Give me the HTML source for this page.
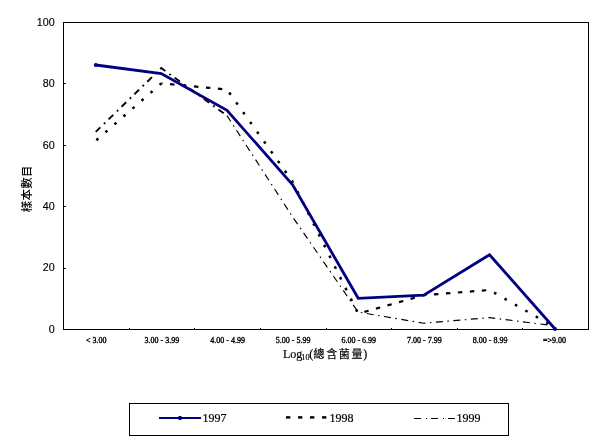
<!DOCTYPE html>
<html><head><meta charset="utf-8"><title>chart</title>
<style>
html,body{margin:0;padding:0;background:#fff;}
svg{display:block;}
.yl{font-family:"Liberation Sans",sans-serif;font-size:10.7px;fill:#000;stroke:#000;stroke-width:0.15px;}
.xl{font-family:"Liberation Serif",serif;font-size:8px;fill:#000;stroke:#000;stroke-width:0.35px;}
.lg{font-family:"Liberation Serif",serif;font-size:12px;fill:#000;stroke:#000;stroke-width:0.2px;}
.cj{font-family:"Liberation Serif","Noto Sans CJK TC","Noto Sans CJK SC",sans-serif;}
.ya{font-family:"Liberation Sans","Noto Sans CJK TC",sans-serif;font-size:11.4px;font-weight:500;fill:#000;}
</style></head><body>
<svg width="604" height="440" viewBox="0 0 604 440">
<rect x="0" y="0" width="604" height="440" fill="#fff"/>
<rect x="63.5" y="22.5" width="525.0" height="307.0" fill="none" stroke="#000" stroke-width="1" shape-rendering="crispEdges"/>
<rect x="64" y="329" width="2" height="1" fill="#000" shape-rendering="crispEdges"/>
<text class="yl" x="54.6" y="332.7" text-anchor="end">0</text>
<rect x="64" y="268" width="2" height="1" fill="#000" shape-rendering="crispEdges"/>
<text class="yl" x="54.6" y="271.3" text-anchor="end">20</text>
<rect x="64" y="206" width="2" height="1" fill="#000" shape-rendering="crispEdges"/>
<text class="yl" x="54.6" y="209.9" text-anchor="end">40</text>
<rect x="64" y="145" width="2" height="1" fill="#000" shape-rendering="crispEdges"/>
<text class="yl" x="54.6" y="148.5" text-anchor="end">60</text>
<rect x="64" y="83" width="2" height="1" fill="#000" shape-rendering="crispEdges"/>
<text class="yl" x="54.6" y="87.1" text-anchor="end">80</text>
<rect x="64" y="22" width="2" height="1" fill="#000" shape-rendering="crispEdges"/>
<text class="yl" x="54.6" y="25.7" text-anchor="end">100</text>
<rect x="129" y="328" width="1" height="1" fill="#000" shape-rendering="crispEdges"/>
<rect x="194" y="328" width="1" height="1" fill="#000" shape-rendering="crispEdges"/>
<rect x="260" y="328" width="1" height="1" fill="#000" shape-rendering="crispEdges"/>
<rect x="326" y="328" width="1" height="1" fill="#000" shape-rendering="crispEdges"/>
<rect x="391" y="328" width="1" height="1" fill="#000" shape-rendering="crispEdges"/>
<rect x="457" y="328" width="1" height="1" fill="#000" shape-rendering="crispEdges"/>
<rect x="522" y="328" width="1" height="1" fill="#000" shape-rendering="crispEdges"/>
<text class="xl" x="96.3" y="343.2" text-anchor="middle">&lt; 3.00</text>
<text class="xl" x="161.9" y="343.2" text-anchor="middle">3.00 - 3.99</text>
<text class="xl" x="227.6" y="343.2" text-anchor="middle">4.00 - 4.99</text>
<text class="xl" x="293.2" y="343.2" text-anchor="middle">5.00 - 5.99</text>
<text class="xl" x="358.8" y="343.2" text-anchor="middle">6.00 - 6.99</text>
<text class="xl" x="424.4" y="343.2" text-anchor="middle">7.00 - 7.99</text>
<text class="xl" x="490.1" y="343.2" text-anchor="middle">8.00 - 8.99</text>
<text class="xl" x="554.5" y="343.2" text-anchor="middle">=&gt;9.00</text>
<polyline points="95.7,131.9 161.3,68.1 227.0,115.6" fill="none" stroke="#000" stroke-width="1.9" stroke-dasharray="6.5 5 1.8 4.7"/>
<polyline points="227.0,115.6 292.6,216.9 358.2,312.1 423.8,323.2 489.5,317.6 555.1,325.9" fill="none" stroke="#000" stroke-width="1.15" stroke-dasharray="7 4.5 1.5 4.5"/>
<line x1="95.7" y1="140.8" x2="161.3" y2="83.4" stroke="#000" stroke-width="2.5" stroke-dasharray="2.6 9.4" stroke-dashoffset="11.10"/>
<line x1="161.3" y1="83.4" x2="227.0" y2="89.5" stroke="#000" stroke-width="2.2" stroke-dasharray="4.4 7.6" stroke-dashoffset="3.19"/>
<line x1="227.0" y1="89.5" x2="292.6" y2="181.6" stroke="#000" stroke-width="2.5" stroke-dasharray="2.6 9.4" stroke-dashoffset="8.20"/>
<line x1="292.6" y1="181.6" x2="358.2" y2="313.6" stroke="#000" stroke-width="2.5" stroke-dasharray="2.6 9.4" stroke-dashoffset="1.29"/>
<line x1="358.2" y1="313.6" x2="423.8" y2="295.2" stroke="#000" stroke-width="2.2" stroke-dasharray="4.4 7.6" stroke-dashoffset="5.61"/>
<line x1="423.8" y1="295.2" x2="489.5" y2="290.0" stroke="#000" stroke-width="2.2" stroke-dasharray="4.4 7.6" stroke-dashoffset="1.78"/>
<line x1="489.5" y1="290.0" x2="555.1" y2="327.5" stroke="#000" stroke-width="2.5" stroke-dasharray="2.6 9.4" stroke-dashoffset="6.71"/>
<polyline points="95.7,65.0 161.3,73.6 227.0,110.4 292.6,184.7 358.2,298.3 423.8,295.2 489.5,254.7 555.1,329.0" fill="none" stroke="#000080" stroke-width="2.8" stroke-linejoin="miter"/>
<circle cx="95.7" cy="65.0" r="1.9" fill="#000080"/>
<circle cx="555.1" cy="329.0" r="1.9" fill="#000080"/>
<text class="lg" x="283" y="358">Log</text>
<text class="lg" x="301.3" y="360" style="font-size:8.2px">10</text>
<text class="lg" x="309.2" y="358">(</text>
<text class="lg cj" x="313.6" y="358" style="font-size:11px;letter-spacing:1.6px">總含菌量</text>
<text class="lg" x="363.2" y="358">)</text>
<text class="ya" transform="translate(30.7,212.3) rotate(-90)" letter-spacing="0.35">樣本數目</text>
<rect x="129.5" y="403.5" width="379" height="32" fill="#fff" stroke="#000" stroke-width="1" shape-rendering="crispEdges"/>
<line x1="159" y1="418" x2="201" y2="418" stroke="#000080" stroke-width="2" shape-rendering="crispEdges"/>
<rect x="178.5" y="416" width="3" height="4" fill="#000080"/>
<text class="lg" x="202.5" y="422">1997</text>
<rect x="286" y="416.2" width="4.4" height="2.4" fill="#000"/>
<rect x="298" y="416.2" width="4.4" height="2.4" fill="#000"/>
<rect x="310" y="416.2" width="4.4" height="2.4" fill="#000"/>
<rect x="322" y="416.2" width="4.4" height="2.4" fill="#000"/>
<text class="lg" x="329.6" y="422">1998</text>
<rect x="414" y="418" width="7" height="1" fill="#000" shape-rendering="crispEdges"/>
<rect x="426" y="418" width="1" height="1" fill="#000" shape-rendering="crispEdges"/>
<rect x="431" y="418" width="7" height="1" fill="#000" shape-rendering="crispEdges"/>
<rect x="443" y="418" width="1" height="1" fill="#000" shape-rendering="crispEdges"/>
<rect x="448" y="418" width="7" height="1" fill="#000" shape-rendering="crispEdges"/>
<text class="lg" x="456.5" y="422">1999</text>
</svg></body></html>
